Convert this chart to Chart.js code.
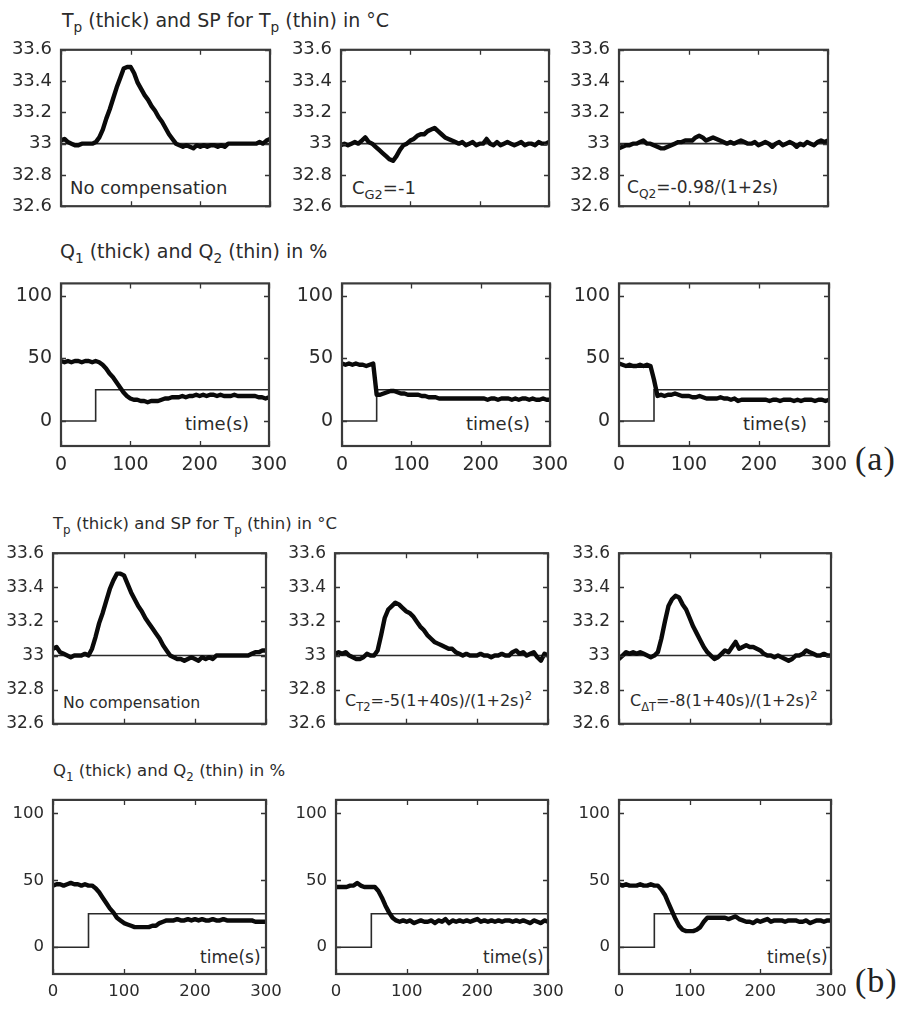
<!DOCTYPE html>
<html><head><meta charset="utf-8">
<script src="https://cdn.jsdelivr.net/npm/chart.js@4"></script>
<style>
html,body{margin:0;padding:0;background:#fff;}
#fig{position:relative;width:905px;height:1012px;overflow:hidden;font-family:"DejaVu Sans",sans-serif;color:#2b2b2b;}
#fig canvas{position:absolute;}
.t{position:absolute;white-space:nowrap;line-height:1;}
.t sub{font-size:72%;vertical-align:-0.4em;line-height:0;}
.t sup{font-size:72%;vertical-align:0.55em;line-height:0;}
.lab{position:absolute;white-space:nowrap;line-height:1;font-family:"Liberation Serif",serif;font-size:34px;letter-spacing:1px;color:#222;}
</style></head>
<body>
<div id="fig">
  <div class="t" style="left:62px;top:11px;font-size:19px;">T<sub>p</sub> (thick) and SP for T<sub>p</sub> (thin) in °C</div>
  <div class="t" style="left:60px;top:242px;font-size:19px;">Q<sub>1</sub> (thick) and Q<sub>2</sub> (thin) in %</div>
  <div class="t" style="left:53px;top:516px;font-size:16.5px;">T<sub>p</sub> (thick) and SP for T<sub>p</sub> (thin) in °C</div>
  <div class="t" style="left:53px;top:763px;font-size:16.5px;">Q<sub>1</sub> (thick) and Q<sub>2</sub> (thin) in %</div>

  <div class="t" style="left:70px;top:179px;font-size:18px;">No compensation</div>
  <div class="t" style="left:352px;top:179px;font-size:18px;">C<sub>G2</sub>=-1</div>
  <div class="t" style="left:627px;top:179px;font-size:17px;">C<sub>Q2</sub>=-0.98/(1+2s)</div>

  <div class="t" style="left:185px;top:415px;font-size:18px;">time(s)</div>
  <div class="t" style="left:466px;top:415px;font-size:18px;">time(s)</div>
  <div class="t" style="left:743px;top:415px;font-size:18px;">time(s)</div>

  <div class="t" style="left:63px;top:695px;font-size:15.7px;">No compensation</div>
  <div class="t" style="left:345px;top:693px;font-size:16px;">C<sub>T2</sub>=-5(1+40s)/(1+2s)<sup>2</sup></div>
  <div class="t" style="left:630px;top:693px;font-size:16px;">C<sub>ΔT</sub>=-8(1+40s)/(1+2s)<sup>2</sup></div>

  <div class="t" style="left:200px;top:949px;font-size:17px;">time(s)</div>
  <div class="t" style="left:483px;top:949px;font-size:17px;">time(s)</div>
  <div class="t" style="left:767px;top:949px;font-size:17px;">time(s)</div>

  <div class="lab" style="left:855px;top:442px;">(a)</div>
  <div class="lab" style="left:855px;top:964px;">(b)</div>
</div>
<script>
// sampling instants (s) of the measured signals
const TIME = [0,5,10,15,20,25,30,35,40,45,50,55,60,65,70,75,80,85,90,95,
  100,105,110,115,120,125,130,135,140,145,150,155,160,165,170,175,180,185,190,195,
  200,205,210,215,220,225,230,235,240,245,250,255,260,265,270,275,280,285,290,295,300];

// set point for Tp (thin line, °C)
const SP_TIME = [0, 300];
const SP_T = [33, 33];

// disturbance Q2 (thin line, %)
const Q2_TIME = [0, 50, 50, 300];
const Q2 = [0, 0, 25, 25];

// measured Tp (thick line, °C) — set (a)
const TP_A1 = [33.02,33.03,33.01,33.00,32.99,32.99,33.00,33.00,33.00,33.00,
  33.01,33.04,33.09,33.16,33.22,33.29,33.36,33.42,33.48,33.49,
  33.49,33.45,33.39,33.35,33.31,33.28,33.24,33.21,33.17,33.14,
  33.10,33.06,33.03,33.00,32.99,32.98,32.99,32.98,32.97,32.99,
  32.98,32.99,32.98,32.99,32.99,32.98,32.99,32.98,33.00,33.00,
  33.00,33.00,33.00,33.00,33.00,33.00,33.00,33.01,33.00,33.02,33.03];
const TP_A2 = [32.99,33.00,32.99,33.00,33.01,33.00,33.02,33.04,33.01,33.00,
  32.98,32.96,32.94,32.92,32.90,32.89,32.92,32.96,32.99,33.00,
  33.02,33.03,33.05,33.06,33.06,33.08,33.09,33.10,33.08,33.06,
  33.04,33.03,33.02,33.01,33.00,33.01,32.99,33.00,33.01,32.99,
  33.00,33.00,33.03,33.00,32.99,33.01,32.99,33.00,33.01,33.00,
  32.99,33.00,33.01,32.99,33.00,33.00,32.99,33.01,33.00,33.00,33.01];
const TP_A3 = [32.97,32.98,32.99,32.99,33.00,33.00,33.01,33.02,33.00,33.00,
  32.99,32.98,32.97,32.97,32.98,32.99,33.00,33.01,33.01,33.02,
  33.02,33.02,33.04,33.05,33.04,33.02,33.03,33.04,33.03,33.02,
  33.01,33.00,33.01,33.00,33.01,33.02,33.01,33.00,33.00,33.01,
  32.99,33.00,33.01,33.00,32.98,33.00,33.01,32.99,33.00,33.01,
  33.00,32.98,33.00,32.99,33.01,33.00,32.99,33.01,33.02,33.01,33.02];

// measured Q1 (thick line, %) — set (a)
const Q1_A1 = [48,47,48,47,48,48,47,48,48,47,
  48,47,45,42,38,35,31,27,23,20,
  18,17,17,16,16,15,16,16,16,17,
  18,18,19,19,19,20,19,20,20,21,
  20,21,20,21,21,20,21,20,20,20,
  21,20,20,20,20,20,20,19,19,18,19];
const Q1_A2 = [46,45,46,45,46,45,45,44,45,46,
  21,21,22,23,24,24,23,22,22,21,
  21,21,21,20,20,19,19,19,18,18,
  18,18,18,18,18,18,18,18,18,18,
  18,18,17,18,18,17,18,18,18,17,
  18,17,18,18,17,18,17,17,18,17,17];
const Q1_A3 = [46,45,44,45,44,44,45,44,45,44,
  33,20,21,20,21,21,22,21,20,20,
  20,19,19,20,19,18,18,18,18,19,
  18,18,17,18,16,17,17,17,17,17,
  17,17,17,16,17,17,16,17,17,17,
  16,17,16,17,17,17,16,17,17,16,17];

// measured Tp (thick line, °C) — set (b)
const TP_B1 = [33.04,33.05,33.02,33.01,33.00,32.99,33.00,33.00,33.00,33.01,
  33.00,33.04,33.11,33.19,33.25,33.32,33.39,33.44,33.48,33.48,
  33.47,33.42,33.37,33.33,33.29,33.26,33.22,33.19,33.16,33.13,
  33.10,33.06,33.03,33.00,32.99,32.98,32.98,32.97,32.98,32.99,
  32.98,32.97,32.99,32.98,32.99,32.98,33.00,33.00,33.00,33.00,
  33.00,33.00,33.00,33.00,33.00,33.00,33.01,33.02,33.02,33.03,33.03];
const TP_B2 = [33.01,33.02,33.01,33.02,33.00,32.99,32.98,32.98,32.99,33.01,
  33.00,33.00,33.03,33.12,33.22,33.27,33.29,33.31,33.30,33.28,
  33.26,33.25,33.23,33.20,33.17,33.15,33.12,33.10,33.08,33.07,
  33.06,33.05,33.04,33.04,33.02,33.01,33.00,33.01,33.00,33.00,
  33.00,33.01,33.00,33.00,32.99,33.00,33.00,33.01,33.00,33.00,
  33.02,33.03,33.01,33.02,33.00,33.01,33.02,32.99,32.97,33.01,33.00];
const TP_B3 = [32.98,33.00,33.02,33.01,33.02,33.01,33.02,33.01,33.00,32.99,
  33.00,33.02,33.10,33.20,33.29,33.33,33.35,33.34,33.30,33.27,
  33.22,33.17,33.13,33.09,33.05,33.02,33.00,32.98,32.99,33.01,
  33.03,33.02,33.05,33.08,33.04,33.05,33.06,33.05,33.05,33.04,
  33.03,33.01,33.00,33.00,32.99,33.00,32.99,32.98,32.97,32.98,
  33.00,33.00,33.01,33.03,33.02,33.01,33.00,33.00,33.01,33.00,33.00];

// measured Q1 (thick line, %) — set (b)
const Q1_B1 = [46,47,47,46,47,48,47,47,46,47,
  46,46,44,41,37,33,29,26,22,20,
  18,17,16,15,15,15,15,15,16,16,
  18,19,20,20,20,21,20,20,21,20,
  21,20,21,20,20,21,20,20,21,20,
  20,20,20,20,20,20,20,19,19,19,19];
const Q1_B2 = [45,45,45,45,46,46,48,46,45,45,
  45,45,42,37,31,26,22,20,19,20,
  19,20,18,19,20,19,19,20,18,20,
  19,21,18,20,19,20,19,20,19,20,
  21,19,20,19,20,19,20,19,20,20,
  19,20,19,20,19,18,20,19,18,20,19];
const Q1_B3 = [47,46,47,46,46,46,47,46,46,47,
  46,46,43,39,33,27,21,16,13,12,
  12,12,13,15,19,22,22,22,22,22,
  22,21,22,23,21,20,19,19,18,20,
  19,20,21,19,20,20,20,19,20,20,
  20,19,19,20,18,19,20,20,19,20,20];

// axis ticks
const X_TICKS = [0, 100, 200, 300];
const T_TICKS = [32.6, 32.8, 33, 33.2, 33.4, 33.6];
const Q_TICKS = [0, 50, 100];

const T_AXIS = {min: 32.6, max: 33.6, ticks: T_TICKS, fmt: v => String(Number(v.toFixed(1)))};
const Q_AXIS = {min: -20, max: 110, ticks: Q_TICKS, fmt: v => String(v)};

// plot-box placement of each panel on the page
const PANELS = [
  {l:61,  r:270, t:44,  b:212, axis:T_AXIS, thinX:SP_TIME, thinY:SP_T, thick:TP_A1, showX:false, fs:18},
  {l:341, r:549, t:44,  b:212, axis:T_AXIS, thinX:SP_TIME, thinY:SP_T, thick:TP_A2, showX:false, fs:18},
  {l:619, r:828, t:44,  b:212, axis:T_AXIS, thinX:SP_TIME, thinY:SP_T, thick:TP_A3, showX:false, fs:18},
  {l:61,  r:269, t:277, b:446, axis:Q_AXIS, thinX:Q2_TIME, thinY:Q2, thick:Q1_A1, showX:true, fs:19},
  {l:342, r:550, t:277, b:446, axis:Q_AXIS, thinX:Q2_TIME, thinY:Q2, thick:Q1_A2, showX:true, fs:19},
  {l:619, r:829, t:277, b:446, axis:Q_AXIS, thinX:Q2_TIME, thinY:Q2, thick:Q1_A3, showX:true, fs:19},
  {l:53,  r:266, t:548, b:729, axis:T_AXIS, thinX:SP_TIME, thinY:SP_T, thick:TP_B1, showX:false, fs:17},
  {l:335, r:548, t:548, b:729, axis:T_AXIS, thinX:SP_TIME, thinY:SP_T, thick:TP_B2, showX:false, fs:17},
  {l:619, r:831, t:548, b:729, axis:T_AXIS, thinX:SP_TIME, thinY:SP_T, thick:TP_B3, showX:false, fs:17},
  {l:53,  r:266, t:795, b:974, axis:Q_AXIS, thinX:Q2_TIME, thinY:Q2, thick:Q1_B1, showX:true, fs:16.5},
  {l:336, r:548, t:795, b:974, axis:Q_AXIS, thinX:Q2_TIME, thinY:Q2, thick:Q1_B2, showX:true, fs:16.5},
  {l:619, r:831, t:795, b:974, axis:Q_AXIS, thinX:Q2_TIME, thinY:Q2, thick:Q1_B3, showX:true, fs:16.5}
];

const zip = (xs, ys) => xs.map((x, i) => ({x, y: ys[i]}));

// box frame with inward tick marks on all four sides
const boxFrame = {
  id: 'boxFrame',
  afterDatasetsDraw(chart) {
    const {ctx, chartArea: a, scales: {x, y}} = chart;
    const L = 5;
    ctx.save();
    ctx.strokeStyle = '#333';
    ctx.lineWidth = 1.3;
    ctx.beginPath();
    x.ticks.forEach(t => {
      const px = Math.round(x.getPixelForValue(t.value)) + 0.5;
      ctx.moveTo(px, a.bottom); ctx.lineTo(px, a.bottom - L);
      ctx.moveTo(px, a.top); ctx.lineTo(px, a.top + L);
    });
    y.ticks.forEach(t => {
      const py = Math.round(y.getPixelForValue(t.value)) + 0.5;
      ctx.moveTo(a.left, py); ctx.lineTo(a.left + L, py);
      ctx.moveTo(a.right, py); ctx.lineTo(a.right - L, py);
    });
    ctx.stroke();
    ctx.lineWidth = 2.2;
    ctx.strokeStyle = '#3a3a3a';
    ctx.strokeRect(a.left, a.top, a.right - a.left, a.bottom - a.top);
    ctx.restore();
  }
};

const fig = document.getElementById('fig');
const YW = 64, PT = 14, PR = 28;

PANELS.forEach(p => {
  const XH = p.showX ? 40 : 14;
  const cv = document.createElement('canvas');
  const W = (p.r - p.l) + YW + PR, H = (p.b - p.t) + PT + XH;
  cv.width = W; cv.height = H;
  cv.style.left = (p.l - YW) + 'px';
  cv.style.top = (p.t - PT) + 'px';
  cv.style.width = W + 'px';
  cv.style.height = H + 'px';
  fig.appendChild(cv);
  const font = {family: '"DejaVu Sans", sans-serif', size: p.fs};
  new Chart(cv, {
    type: 'line',
    data: {datasets: [
      {data: zip(TIME, p.thick), borderColor: '#0a0a0a', borderWidth: 4.4, pointRadius: 0, tension: 0, borderJoinStyle: 'round', borderCapStyle: 'round'},
      {data: zip(p.thinX, p.thinY), borderColor: '#2a2a2a', borderWidth: 1.6, pointRadius: 0, tension: 0}
    ]},
    options: {
      responsive: false, animation: false, devicePixelRatio: 1,
      layout: {padding: {left: 0, top: PT, right: PR, bottom: 0}},
      plugins: {legend: {display: false}, tooltip: {enabled: false}},
      scales: {
        x: {
          type: 'linear', min: 0, max: 300,
          afterBuildTicks: s => { s.ticks = X_TICKS.map(v => ({value: v})); },
          afterFit: s => { s.height = XH; },
          grid: {display: false, drawTicks: false}, border: {display: false},
          ticks: {display: p.showX, padding: 8, color: '#2b2b2b', font, maxRotation: 0, autoSkip: false}
        },
        y: {
          type: 'linear', min: p.axis.min, max: p.axis.max,
          afterBuildTicks: s => { s.ticks = p.axis.ticks.map(v => ({value: v})); },
          afterFit: s => { s.width = YW; },
          grid: {display: false, drawTicks: false}, border: {display: false},
          ticks: {padding: 9, color: '#2b2b2b', font, autoSkip: false, callback: v => p.axis.fmt(v)}
        }
      }
    },
    plugins: [boxFrame]
  });
});
</script>
</body></html>
